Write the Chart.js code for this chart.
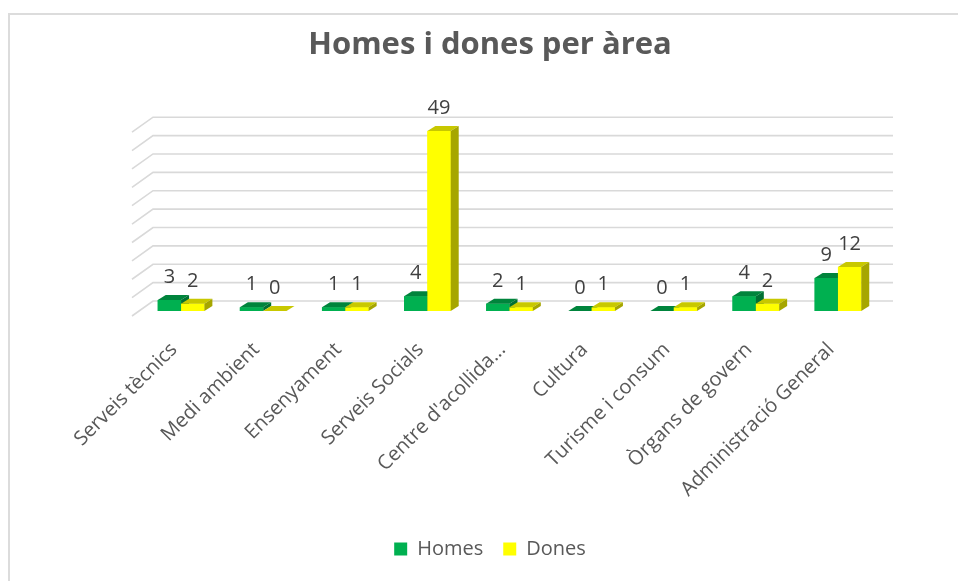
<!DOCTYPE html>
<html>
<head>
<meta charset="utf-8">
<title>Homes i dones per àrea</title>
<script src="https://cdn.jsdelivr.net/npm/chart.js@4.4.1/dist/chart.umd.min.js"></script>
<style>
  html, body { margin: 0; padding: 0; background: #fff; }
  #frame { position: absolute; left: 8px; top: 13px; width: 960px; height: 580px; border-top: 2px solid #dcdcdc; border-left: 2px solid #dcdcdc; }
  #wrap { position: absolute; left: 0; top: 0; width: 958px; height: 581px; }
</style>
</head>
<body>
<div id="frame"></div>
<div id="wrap"><canvas id="chart"></canvas></div>
<script>
// Data
const areas = ['Serveis tècnics', 'Medi ambient', 'Ensenyament', 'Serveis Socials', "Centre d'acollida...", 'Cultura', 'Turisme i consum', 'Òrgans de govern', 'Administració General'];
const homes = [3, 1, 1, 4, 2, 0, 0, 4, 9];
const dones = [2, 0, 1, 49, 1, 1, 1, 2, 12];
const yMax = 50;
const yStep = 5;

// Colours (front / top / side)
const GREEN = '#00B050';
const YELLOW = '#FFFF00';
const shades = {
    [GREEN]: { top: '#00843C', side: '#007033' },
    [YELLOW]: { top: '#C8C800', side: '#A6A600' }
};

// fake 3D offsets
const DX = 8, DY = 5;
const WALL_X = 13, WALL_Y = 10;

Chart.defaults.font.family = "'Open Sans', sans-serif";

function poly(ctx, pts) {
    ctx.beginPath();
    ctx.moveTo(pts[0][0], pts[0][1]);
    for (let i = 1; i < pts.length; i++) ctx.lineTo(pts[i][0], pts[i][1]);
    ctx.closePath();
    ctx.fill();
}

// back wall grid lines with the little side-wall diagonal
const wallGrid = {
    id: 'wallGrid',
    beforeDatasetsDraw(chart) {
        const { ctx, chartArea, scales: { y } } = chart;
        ctx.save();
        ctx.strokeStyle = '#d9d9d9';
        ctx.lineWidth = 1.6;
        y.ticks.forEach(t => {
            const py = y.getPixelForValue(t.value) - WALL_Y;
            const px = chartArea.left + WALL_X;
            ctx.beginPath();
            ctx.moveTo(px - 21, py + 15);
            ctx.lineTo(px, py);
            ctx.lineTo(chartArea.right + 14, py);
            ctx.stroke();
        });
        ctx.restore();
    }
};

// bars redrawn as boxes, category by category so neighbours overlap right
const bars3d = {
    id: 'bars3d',
    afterDatasetsDraw(chart) {
        const { ctx } = chart;
        const metas = chart.data.datasets.map((ds, i) => chart.getDatasetMeta(i));
        ctx.save();
        areas.forEach((a, i) => {
            metas.forEach((meta, d) => {
                const ds = chart.data.datasets[d];
                const bar = meta.data[i];
                const { x, y, base, width } = bar.getProps(['x', 'y', 'base', 'width'], true);
                const x0 = x - width / 2, x1 = x + width / 2;
                const shade = shades[ds.backgroundColor];
                ctx.fillStyle = ds.backgroundColor;
                ctx.fillRect(x0, y, width, base - y);
                ctx.fillStyle = shade.top;
                poly(ctx, [[x0, y], [x1, y], [x1 + DX, y - DY], [x0 + DX, y - DY]]);
                ctx.fillStyle = shade.side;
                poly(ctx, [[x1, y], [x1 + DX, y - DY], [x1 + DX, base - DY], [x1, base]]);
            });
        });
        // value labels
        ctx.fillStyle = '#404040';
        ctx.font = "20px 'Open Sans'";
        ctx.textAlign = 'center';
        ctx.textBaseline = 'alphabetic';
        metas.forEach((meta, d) => {
            const ds = chart.data.datasets[d];
            meta.data.forEach((bar, i) => {
                const { x, y } = bar.getProps(['x', 'y'], true);
                ctx.fillText(ds.data[i], x, y - 17);
            });
        });
        ctx.restore();
    }
};

new Chart(document.getElementById('chart'), {
    type: 'bar',
    data: {
        labels: areas,
        datasets: [
            { label: 'Homes', data: homes, backgroundColor: GREEN },
            { label: 'Dones', data: dones, backgroundColor: YELLOW }
        ]
    },
    options: {
        responsive: true,
        maintainAspectRatio: false,
        animation: false,
        events: [],
        datasets: { bar: { categoryPercentage: 0.568, barPercentage: 1 } },
        layout: { padding: { left: 26, right: 4, top: 10, bottom: 12 } },
        scales: {
            x: {
                grid: { display: false },
                border: { display: false },
                ticks: { color: '#595959', font: { size: 20 }, minRotation: 45, maxRotation: 45, autoSkip: false, padding: 19, labelOffset: -7 },
                afterFit: s => { s.height = 208; }
            },
            y: {
                min: 0, max: yMax,
                ticks: { stepSize: yStep, display: false },
                grid: { display: false },
                border: { display: false },
                afterFit: s => { s.width = 114; }
            },
            y2: {
                position: 'right',
                ticks: { display: false },
                grid: { display: false },
                border: { display: false },
                afterFit: s => { s.width = 75; }
            }
        },
        plugins: {
            title: {
                display: true,
                text: 'Homes i dones per àrea',
                color: '#595959',
                font: { size: 31, weight: 'bold' },
                padding: { top: 17, bottom: 63 }
            },
            legend: {
                position: 'bottom',
                labels: { color: '#595959', font: { size: 20 }, boxWidth: 13, boxHeight: 13, padding: 20 }
            },
            tooltip: { enabled: false }
        }
    },
    plugins: [wallGrid, bars3d]
});
</script>
</body>
</html>
